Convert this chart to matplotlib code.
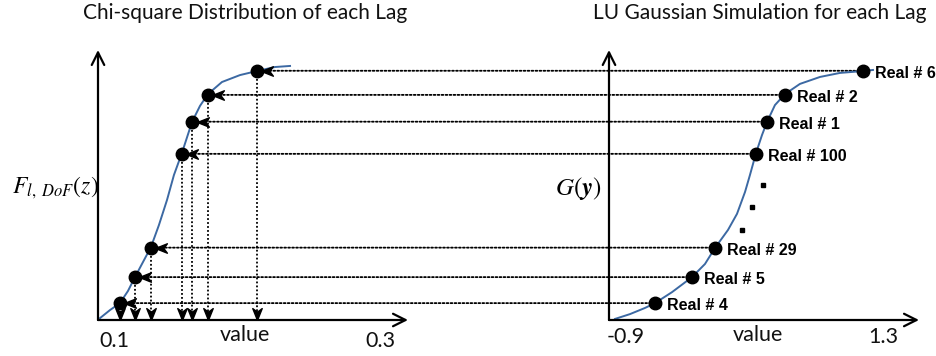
import matplotlib.pyplot as plt
import numpy as np
from matplotlib.patches import ConnectionPatch
from matplotlib.path import Path
from matplotlib.transforms import offset_copy, blended_transform_factory

# cumulative probability shared by both panels, one per realization
prob = [0.063, 0.16, 0.27, 0.62, 0.74, 0.84, 0.93]
chi_value = [0.1045, 0.1158, 0.1278, 0.1511, 0.1587, 0.1707, 0.2075]
gauss_value = [-0.652, -0.335, -0.138, 0.213, 0.307, 0.461, 1.129]
real_labels = ['Real # 4', 'Real # 5', 'Real # 29', 'Real # 100',
               'Real # 1', 'Real # 2', 'Real # 6']

# curves
chi_curve_x = [0.0895, 0.0970, 0.1045, 0.1105, 0.1158, 0.1218, 0.1278, 0.1338,
               0.1399, 0.1451, 0.1511, 0.1587, 0.1647, 0.1707, 0.1812, 0.1948,
               0.2075, 0.2211, 0.2324]
chi_curve_p = [0.007, 0.037, 0.063, 0.108, 0.160, 0.216, 0.272, 0.354,
               0.448, 0.541, 0.623, 0.739, 0.799, 0.843, 0.888, 0.914,
               0.929, 0.944, 0.948]
gauss_curve_x = [-0.994, -0.866, -0.737, -0.652, -0.506, -0.335, -0.224, -0.138,
                 -0.027, 0.050, 0.119, 0.161, 0.213, 0.264, 0.307, 0.375,
                 0.461, 0.589, 0.761, 0.932, 1.129, 1.214]
gauss_curve_p = [0.004, 0.022, 0.045, 0.063, 0.104, 0.160, 0.209, 0.269,
                 0.336, 0.396, 0.478, 0.541, 0.623, 0.690, 0.739, 0.802,
                 0.843, 0.881, 0.907, 0.922, 0.929, 0.933]

# the "..." between Real # 29 and Real # 100
dots_x = [0.093, 0.179, 0.273]
dots_p = [0.336, 0.422, 0.504]

plt.rcParams['mathtext.fontset'] = 'stix'
W, H = 936, 356
fig = plt.figure(figsize=(W / 100, H / 100), dpi=100)

curve_color = '#3c69a3'
dot_style = (0, (1, 1.2))


def px_axes(x0, x1, y0, y1):
    ax = fig.add_axes([x0 / W, (H - y1) / H, (x1 - x0) / W, (y1 - y0) / H])
    ax.set_facecolor('none')
    for s in ax.spines.values():
        s.set_visible(False)
    ax.set_xticks([])
    ax.set_yticks([])
    arrow = dict(arrowstyle='->,head_length=0.9,head_width=0.45', lw=1.6,
                 color='black', shrinkA=0, shrinkB=0)
    ax.annotate('', xy=(0, 1), xytext=(0, 0), xycoords='axes fraction',
                arrowprops=arrow)
    ax.annotate('', xy=(1, 0), xytext=(0, 0), xycoords='axes fraction',
                arrowprops=arrow)
    return ax


ax1 = px_axes(98, 408, 50, 320)
ax1.set_xlim(0.088, 0.3211)
ax1.set_ylim(0, 1.0075)
ax2 = px_axes(609, 919, 50, 320)
ax2.set_xlim(-1.0455, 1.608)
ax2.set_ylim(0, 1.0075)

# arrow head markers
left_head = Path([(-1, 0), (1, 0.8), (0.4, 0), (1, -0.8), (-1, 0)],
                 [Path.MOVETO, Path.LINETO, Path.LINETO, Path.LINETO, Path.CLOSEPOLY])
down_head = Path([(0, -1), (0.8, 1), (0, 0.4), (-0.8, 1), (0, -1)],
                 [Path.MOVETO, Path.LINETO, Path.LINETO, Path.LINETO, Path.CLOSEPOLY])

# curves
ax1.plot(chi_curve_x, chi_curve_p, color=curve_color, lw=1.4, clip_on=False, zorder=2)
ax2.plot(gauss_curve_x, gauss_curve_p, color=curve_color, lw=1.4, clip_on=False, zorder=2)

# dotted links: right panel -> left panel -> value axis
for v, g, p in zip(chi_value, gauss_value, prob):
    con = ConnectionPatch(xyA=(g, p), coordsA=ax2.transData,
                          xyB=(v, p), coordsB=ax1.transData,
                          color='black', lw=1.3, linestyle=dot_style, zorder=-1)
    fig.add_artist(con)
    ax1.plot([v, v], [p, 0], color='black', lw=1.3, linestyle=dot_style, zorder=1)

ax1.plot(chi_value, prob, linestyle='none', marker=left_head, markersize=8.5,
         color='black', transform=offset_copy(ax1.transData, fig=fig, x=10.5, y=0,
                                              units='dots'), zorder=3)
ax1.plot(chi_value, [0] * len(chi_value), linestyle='none', marker=down_head,
         markersize=8.5, color='black',
         transform=offset_copy(ax1.transData, fig=fig, x=0, y=6.5, units='dots'),
         zorder=3)

ax1.plot(chi_value, prob, 'o', color='black', markersize=9, zorder=4)
ax2.plot(gauss_value, prob, 'o', color='black', markersize=9, zorder=4)
ax2.plot(dots_x, dots_p, 's', color='black', markersize=2.4)

for g, p, lab in zip(gauss_value, prob, real_labels):
    ax2.annotate(lab, xy=(g, p), xytext=(8.5, -2), textcoords='offset points',
                 va='center', ha='left', fontsize=11.5, fontweight='bold',
                 family='Liberation Sans')

# tick labels and axis names
tick_font = dict(family='Lato', fontsize=15.5, color='#111111')
t1 = blended_transform_factory(ax1.transData, fig.transFigure)
t2 = blended_transform_factory(ax2.transData, fig.transFigure)
ax1.text(0.1, (H - 347) / H, '0.1', transform=t1, ha='center', va='baseline', **tick_font)
ax1.text(0.3, (H - 347) / H, '0.3', transform=t1, ha='center', va='baseline', **tick_font)
ax2.text(-0.9, (H - 343) / H, '-0.9', transform=t2, ha='center', va='baseline', **tick_font)
ax2.text(1.3, (H - 343) / H, '1.3', transform=t2, ha='center', va='baseline', **tick_font)
fig.text(245 / W, (H - 341) / H, 'value', ha='center', va='baseline', **tick_font)
fig.text(758 / W, (H - 341) / H, 'value', ha='center', va='baseline', **tick_font)

fig.text(245 / W, (H - 19) / H, 'Chi-square Distribution of each Lag',
         ha='center', va='baseline', family='Lato', fontsize=15, color='#111111')
fig.text(760 / W, (H - 19) / H, 'LU Gaussian Simulation for each Lag',
         ha='center', va='baseline', family='Lato', fontsize=15, color='#111111')

fig.text(55 / W, (H - 188) / H, r'$F_{l,\ DoF}(z)$', ha='center', va='center', fontsize=17)
fig.text(578 / W, (H - 188) / H, r'$G(\mathbfit{y})$', ha='center', va='center', fontsize=18)

fig.savefig('out.png', dpi=100)
